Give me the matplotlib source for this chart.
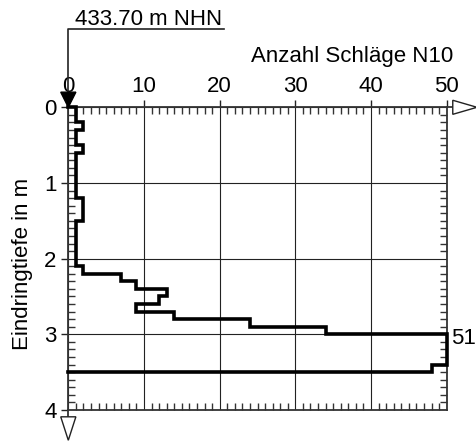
import numpy as np
import matplotlib
matplotlib.use('Agg')
import matplotlib.pyplot as plt
from matplotlib.patches import Polygon
from matplotlib.ticker import MultipleLocator

plt.rcParams['font.family'] = ['Liberation Sans', 'DejaVu Sans']
plt.rcParams['font.size'] = 16

# blow counts N10 per 0.1 m, from 0.0 m down to 3.5 m
depth_step = 0.1
n10 = [1, 1, 2, 1, 1, 2, 1, 1, 1, 1,
       1, 1, 2, 2, 2, 1, 1, 1, 1, 1,
       1, 2, 7, 9, 13, 12, 9, 14, 24, 34,
       51, 50, 51, 50, 48]
x_max = 50
x_ticks = [0, 10, 20, 30, 40, 50]
y_ticks = [0, 1, 2, 3, 4]
elevation_label = '433.70 m NHN'

n10 = np.array(n10, dtype=float)
depth_top = np.arange(len(n10)) * depth_step
depth_bot = depth_top + depth_step
shown = np.minimum(n10, x_max)

# build step outline, closing back to 0 at the ends
xs = np.concatenate([[0], np.repeat(shown, 2), [0]])
ys = np.concatenate([[0], np.column_stack([depth_top, depth_bot]).ravel(), [depth_bot[-1]]])

fig = plt.figure(figsize=(4.77, 4.41), dpi=100)
ax = fig.add_axes([0.1432, 0.0703, 0.7933, 0.6864])
ax.set_xlim(0, x_max)
ax.set_ylim(4, 0)

ax.xaxis.tick_top()
ax.set_xticks(x_ticks)
ax.set_yticks(y_ticks)
ax.xaxis.set_minor_locator(MultipleLocator(1))
ax.yaxis.set_minor_locator(MultipleLocator(0.1))
ax.tick_params(which='major', direction='out', length=5, width=1.0, color='#222222',
               top=True, bottom=False, left=True, right=False, labelsize=16)
ax.tick_params(axis='x', which='major', pad=2.5)
ax.tick_params(axis='y', which='major', pad=3.5)
ax.tick_params(which='minor', direction='in', length=5, width=1.0, color='#333333',
               top=True, bottom=True, left=True, right=True)

for sp in ax.spines.values():
    sp.set_color('#333333')
    sp.set_linewidth(1.3)

ax.grid(which='major', color='#222222', linewidth=0.8)

ax.plot(xs, ys, color='black', linewidth=2.6, solid_joinstyle='miter', clip_on=False, zorder=5)

# value above the axis limit
i_max = int(np.argmax(n10))
ax.text(x_max + 0.6, depth_top[i_max] + depth_step / 2, '%d' % n10[i_max],
        ha='left', va='center', fontsize=16, clip_on=False)

# axis arrows
ax.plot([x_max, 50.8], [0, 0], color='#333333', lw=1.3, clip_on=False)
ax.add_patch(Polygon([[50.8, -0.093], [50.8, 0.093], [54.0, 0]], closed=True,
                     facecolor='white', edgecolor='#222222', lw=1.0, clip_on=False, zorder=6))
ax.plot([0, 0], [4, 4.09], color='#333333', lw=1.3, clip_on=False)
ax.add_patch(Polygon([[-1.0, 4.09], [1.0, 4.09], [0, 4.40]], closed=True,
                     facecolor='white', edgecolor='#222222', lw=1.0, clip_on=False, zorder=6))

# elevation marker
ax.plot([20.6, 0, 0], [-1.03, -1.03, -0.2], color='#222222', lw=1.2, clip_on=False)
ax.add_patch(Polygon([[-1.0, -0.2], [1.0, -0.2], [0, 0]], closed=True,
                     facecolor='black', edgecolor='black', lw=1.0, clip_on=False, zorder=6))
ax.text(0.9, -1.09, elevation_label, ha='left', va='baseline', fontsize=16, clip_on=False)

ax.text(50.8, -0.6, 'Anzahl Schläge N10', ha='right', va='baseline', fontsize=16, clip_on=False)
ax.text(-0.12, 0.482, 'Eindringtiefe in m', rotation=90, ha='center', va='center',
        fontsize=16, transform=ax.transAxes)

fig.savefig('out.png', dpi=100)
